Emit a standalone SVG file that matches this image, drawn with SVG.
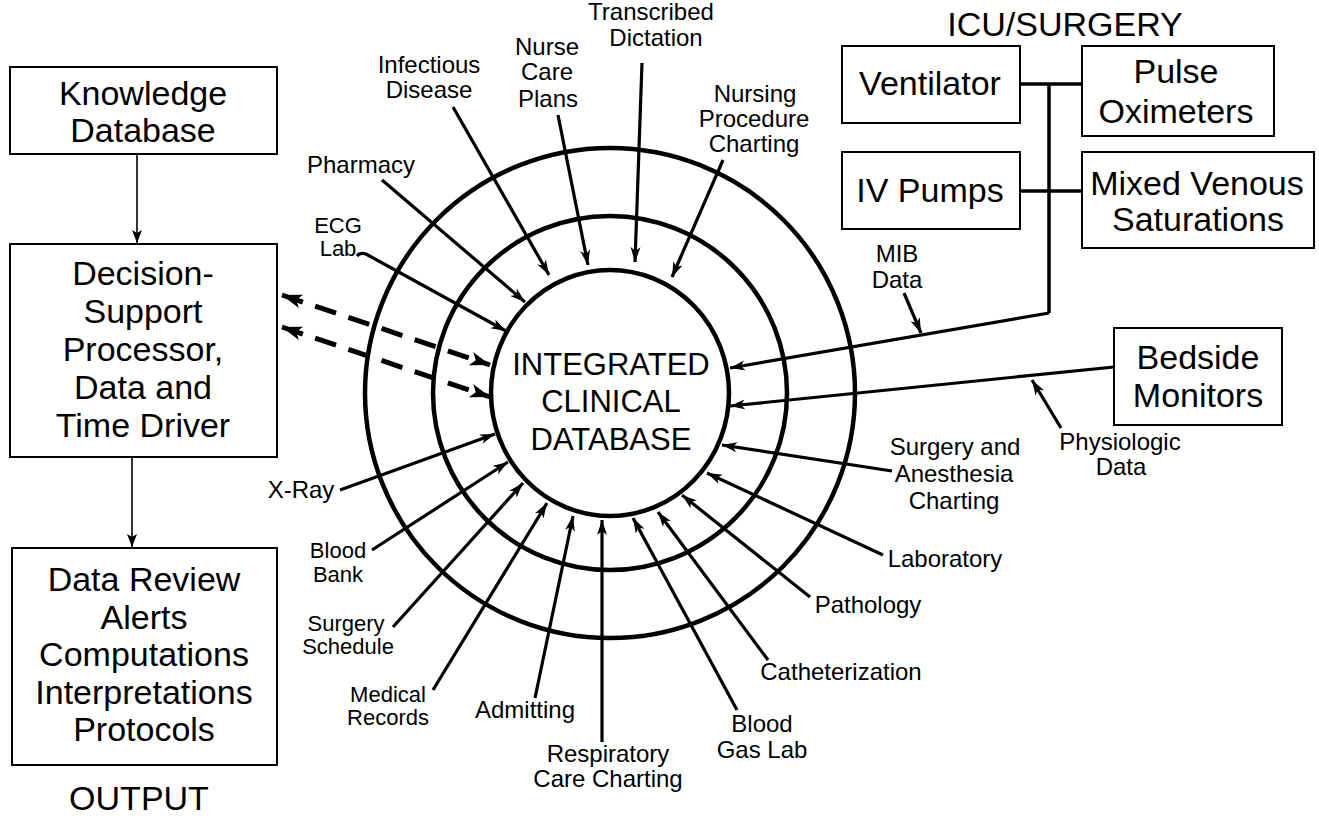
<svg xmlns="http://www.w3.org/2000/svg" width="1319" height="819" viewBox="0 0 1319 819">
<style>
text{font-family:"Liberation Sans",Arial,sans-serif;fill:#000;text-anchor:middle}
.big{font-size:34px}
.mid{font-size:31px}
.lbl{font-size:24px}
.tight{font-size:22px}
.box{fill:#fff;stroke:#000;stroke-width:2}
.ring{fill:none;stroke:#000;stroke-width:4.5}
.arr{fill:none;stroke:#000;stroke-width:3.2;marker-end:url(#ah)}
.bus{fill:none;stroke:#000;stroke-width:3.5}
.thin{fill:none;stroke:#000;stroke-width:1.6;marker-end:url(#ahs)}
.dash{fill:none;stroke:#000;stroke-width:5;stroke-dasharray:22 13;marker-start:url(#ahd);marker-end:url(#ahd)}
</style>
<defs>
<marker id="ah" markerUnits="userSpaceOnUse" markerWidth="16" markerHeight="12" refX="15" refY="5" orient="auto">
<path d="M0,0 L15,5 L0,10 L4,5 z" fill="#000"/>
</marker>
<marker id="ahs" markerUnits="userSpaceOnUse" markerWidth="14" markerHeight="12" refX="13" refY="5" orient="auto">
<path d="M0,0 L13,5 L0,10 L3,5 z" fill="#000"/>
</marker>
<marker id="ahd" markerUnits="userSpaceOnUse" markerWidth="22" markerHeight="16" refX="20" refY="7" orient="auto-start-reverse">
<path d="M0,0 L20,7 L0,14 L5,7 z" fill="#000"/>
</marker>
</defs>
<rect width="1319" height="819" fill="#fff"/>

<g id="rings">
<circle class="ring" cx="610" cy="393" r="245"/>
<circle class="ring" cx="610" cy="393" r="177"/>
<ellipse class="ring" cx="610" cy="393" rx="119" ry="123"/>
</g>

<g id="connectors">
<line class="thin" x1="137" y1="154" x2="137" y2="243"/>
<line class="thin" x1="132" y1="457" x2="132" y2="547"/>
<line class="dash" x1="282" y1="295" x2="490" y2="365"/>
<line class="dash" x1="282" y1="327" x2="490" y2="397"/>
<path class="arr" d="M357,256 Q360,252 366,254 L506,331"/>
<line class="arr" x1="382" y1="180" x2="525" y2="302"/>
<line class="arr" x1="453" y1="107" x2="549" y2="275"/>
<line class="arr" x1="558" y1="115" x2="588" y2="265"/>
<line class="arr" x1="642" y1="63" x2="635" y2="262"/>
<line class="arr" x1="723" y1="160" x2="672" y2="277"/>
<line class="bus" x1="1020" y1="84" x2="1082" y2="84"/>
<line class="bus" x1="1020" y1="191" x2="1082" y2="191"/>
<polyline class="bus" points="1049,84 1049,313"/>
<line class="arr" x1="1049" y1="313" x2="730" y2="368"/>
<line class="arr" x1="904" y1="293" x2="921" y2="333"/>
<line class="arr" x1="1114" y1="367" x2="730" y2="406"/>
<line class="arr" x1="1061" y1="428" x2="1032" y2="380"/>
<line class="arr" x1="892" y1="471" x2="722" y2="445"/>
<line class="arr" x1="883" y1="555" x2="707" y2="473"/>
<line class="arr" x1="810" y1="597" x2="682" y2="495"/>
<line class="arr" x1="768" y1="660" x2="658" y2="512"/>
<line class="arr" x1="737" y1="710" x2="633" y2="518"/>
<line class="arr" x1="602" y1="742" x2="602" y2="520"/>
<line class="arr" x1="535" y1="698" x2="573" y2="516"/>
<line class="arr" x1="433" y1="690" x2="547" y2="503"/>
<line class="arr" x1="393" y1="627" x2="523" y2="483"/>
<line class="arr" x1="372" y1="550" x2="508" y2="462"/>
<line class="arr" x1="340" y1="490" x2="495" y2="434"/>
</g>

<g id="knowledge">
<rect class="box" x="10" y="67" width="267" height="87"/>
<text class="big" x="143" y="105">Knowledge</text>
<text class="big" x="143" y="142">Database</text>
</g>
<g id="decision">
<rect class="box" x="10" y="244" width="267" height="213"/>
<text class="big" x="143" y="285">Decision-</text>
<text class="big" x="143" y="323">Support</text>
<text class="big" x="143" y="361">Processor,</text>
<text class="big" x="143" y="399">Data and</text>
<text class="big" x="143" y="437">Time Driver</text>
</g>
<g id="output">
<rect class="box" x="12" y="548" width="265" height="217"/>
<text class="big" x="144" y="591">Data Review</text>
<text class="big" x="144" y="629">Alerts</text>
<text class="big" x="144" y="666">Computations</text>
<text class="big" x="144" y="704">Interpretations</text>
<text class="big" x="144" y="741">Protocols</text>
</g>
<g id="output-label"><text class="big" x="139" y="810">OUTPUT</text></g>

<g id="icu-label"><text class="big" x="1065" y="36">ICU/SURGERY</text></g>
<g id="ventilator">
<rect class="box" x="842" y="46" width="178" height="77"/>
<text class="big" x="930" y="95">Ventilator</text>
</g>
<g id="pulse">
<rect class="box" x="1082" y="46" width="192" height="90"/>
<text class="big" x="1176" y="83">Pulse</text>
<text class="big" x="1176" y="123">Oximeters</text>
</g>
<g id="ivpumps">
<rect class="box" x="842" y="152" width="178" height="77"/>
<text class="big" x="930" y="202">IV Pumps</text>
</g>
<g id="mixed">
<rect class="box" x="1082" y="152" width="232" height="96"/>
<text class="big" x="1197" y="195">Mixed Venous</text>
<text class="big" x="1198" y="231">Saturations</text>
</g>
<g id="bedside">
<rect class="box" x="1114" y="328" width="168" height="97"/>
<text class="big" x="1198" y="369">Bedside</text>
<text class="big" x="1198" y="407">Monitors</text>
</g>

<g id="center">
<text class="mid" x="611" y="375">INTEGRATED</text>
<text class="mid" x="611" y="412">CLINICAL</text>
<text class="mid" x="611" y="450">DATABASE</text>
</g>

<g id="labels">
<text class="tight" x="338" y="233">ECG</text>
<text class="tight" x="338" y="256">Lab</text>
<text class="lbl" x="361" y="173">Pharmacy</text>
<text class="lbl" x="429" y="73">Infectious</text>
<text class="lbl" x="429" y="98">Disease</text>
<text class="lbl" x="547" y="55">Nurse</text>
<text class="lbl" x="547" y="80">Care</text>
<text class="lbl" x="548" y="107">Plans</text>
<text class="lbl" x="651" y="20">Transcribed</text>
<text class="lbl" x="656" y="46">Dictation</text>
<text class="lbl" x="755" y="102">Nursing</text>
<text class="lbl" x="754" y="127">Procedure</text>
<text class="lbl" x="754" y="152">Charting</text>
<text class="lbl" x="897" y="262">MIB</text>
<text class="lbl" x="897" y="288">Data</text>
<text class="lbl" x="1120" y="450">Physiologic</text>
<text class="lbl" x="1121" y="475">Data</text>
<text class="lbl" x="955" y="455">Surgery and</text>
<text class="lbl" x="954" y="482">Anesthesia</text>
<text class="lbl" x="954" y="509">Charting</text>
<text class="lbl" x="945" y="567">Laboratory</text>
<text class="lbl" x="868" y="613">Pathology</text>
<text class="lbl" x="841" y="680">Catheterization</text>
<text class="lbl" x="762" y="732">Blood</text>
<text class="lbl" x="762" y="758">Gas Lab</text>
<text class="lbl" x="608" y="762">Respiratory</text>
<text class="lbl" x="608" y="787">Care Charting</text>
<text class="lbl" x="525" y="718">Admitting</text>
<text class="tight" x="388" y="702">Medical</text>
<text class="tight" x="388" y="725">Records</text>
<text class="tight" x="346" y="631">Surgery</text>
<text class="tight" x="348" y="654">Schedule</text>
<text class="tight" x="338" y="558">Blood</text>
<text class="tight" x="338" y="582">Bank</text>
<text class="lbl" x="301" y="498">X-Ray</text>
</g>
</svg>
